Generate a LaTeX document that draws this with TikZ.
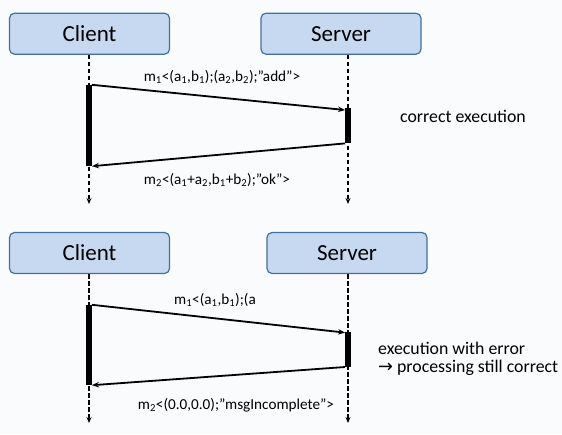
\documentclass[tikz,border=0pt]{standalone}
\usepackage{fontspec}
\setmainfont{Carlito}
\newfontfamily\symfont{DejaVu Sans}
\usetikzlibrary{arrows.meta}

\definecolor{boxfill}{RGB}{198,217,241}
\definecolor{boxline}{RGB}{65,113,156}
\definecolor{bgcol}{RGB}{250,251,253}

\newcommand{\sbs}[1]{\textsubscript{#1}}

\tikzset{
  actor/.style={draw=boxline, line width=1.2pt, fill=boxfill, rounded corners=5pt,
    minimum width=160pt, minimum height=41pt, font=\fontsize{23}{27}\selectfont},
  life/.style={dash pattern=on 4.5pt off 2.5pt, line width=1.5pt, -{Stealth[length=6pt,width=5pt]}},
  bar/.style={fill=black, inner sep=0pt, minimum width=5.5pt},
  msg/.style={line width=1.8pt, -{Stealth[length=7pt,width=5.5pt]}},
  lbl/.style={font=\fontsize{15.2}{18}\selectfont},
  note/.style={font=\fontsize{17.8}{18.5}\selectfont, align=left, anchor=west, inner sep=0pt}
}

\begin{document}
\begin{tikzpicture}[x=1pt,y=-1pt]

\fill[bgcol] (0,0) rectangle (562,434);
\useasboundingbox (0,0) rectangle (562,434);

% correct execution
\node[actor](c1) at (89.5,33.7) {Client};
\node[actor](s1) at (341,33.7) {Server};
\coordinate(cend1) at (89,204);
\coordinate(send1) at (348,204);

\draw[life] (c1.south -| cend1) -- (cend1);
\draw[life] (s1.south -| send1) -- (send1);

\node[bar, minimum height=81pt](cb1) at (89,125.5) {};
\node[bar, minimum height=35pt](sb1) at (348,125.7) {};

\draw[msg] (cb1.north east) -- ([yshift=-2pt]sb1.north west);
\draw[msg] (sb1.south west) -- (cb1.south east);

\node[lbl](m1) at (222,77) {m\sbs{1}<(a\sbs{1},b\sbs{1});(a\sbs{2},b\sbs{2});”add”>};
\node[lbl](m2) at (217,180) {m\sbs{2}<(a\sbs{1}+a\sbs{2},b\sbs{1}+b\sbs{2});”ok”>};

\node[note](ok) at (400,116) {correct execution};

% execution with error
\node[actor](c2) at (89.5,253) {Client};
\node[actor](s2) at (347,253) {Server};
\coordinate(cend2) at (89,423);
\coordinate(send2) at (348,423);

\draw[life] (c2.south -| cend2) -- (cend2);
\draw[life] (s2.south -| send2) -- (send2);

\node[bar, minimum height=80pt](cb2) at (89,345) {};
\node[bar, minimum height=35pt](sb2) at (348,349.3) {};

\draw[msg] (cb2.north east) -- ([yshift=-1pt]sb2.north west);
\draw[msg] (sb2.south west) -- (cb2.south east);

\node[lbl](m3) at (215,300) {m\sbs{1}<(a\sbs{1},b\sbs{1});(a};
\node[lbl](m4) at (236,405) {m\sbs{2}<(0.0,0.0);”msgIncomplete”>};

\node[note](err) at (378,359) {execution with error\\{\symfont →} processing still correct};

\end{tikzpicture}
\end{document}
